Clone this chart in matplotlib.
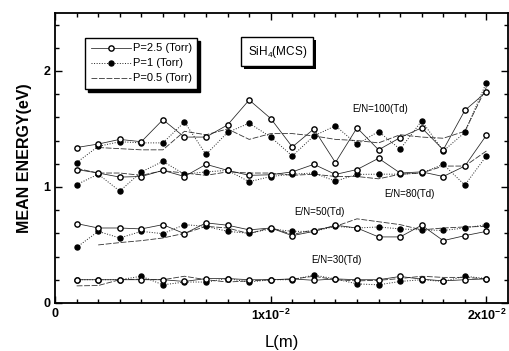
import numpy as np
import matplotlib
matplotlib.use("Agg")
import matplotlib.pyplot as plt
import matplotlib.transforms as mtransforms
from matplotlib.patches import Rectangle

plt.rcParams['font.family'] = ['Liberation Sans', 'DejaVu Sans']
plt.rcParams['mathtext.fontset'] = 'custom'
plt.rcParams['mathtext.rm'] = 'Liberation Sans'
plt.rcParams['mathtext.bf'] = 'Liberation Sans:bold'

# drift length L (m)
L = np.arange(1, 21) * 1e-3
nan = np.nan

# mean energy (eV) for each E/N and pressure
en100_p25 = [1.34, 1.37, 1.41, 1.39, 1.58, 1.43, 1.43, 1.535, 1.75, 1.59,
             1.345, 1.50, 1.21, 1.51, 1.32, 1.425, 1.51, 1.32, 1.66, 1.82]
en100_p1 = [1.21, 1.35, 1.39, 1.38, 1.38, 1.56, 1.28, 1.47, 1.55, 1.43,
            1.267, 1.44, 1.527, 1.368, 1.478, 1.325, 1.57, 1.31, 1.47, 1.90]
en100_p05 = [nan, 1.34, 1.33, 1.32, 1.32, 1.48, 1.45, 1.50, 1.41, 1.46,
             1.46, 1.44, 1.41, 1.40, 1.38, 1.45, 1.43, 1.42, 1.48, 1.86]

en80_p25 = [1.15, 1.12, 1.085, 1.09, 1.143, 1.09, 1.195, 1.143, 1.10, 1.105,
            1.13, 1.195, 1.108, 1.15, 1.247, 1.12, 1.13, 1.09, 1.18, 1.446]
en80_p1 = [1.02, 1.11, 0.964, 1.13, 1.22, 1.11, 1.13, 1.143, 1.045, 1.09,
           1.11, 1.12, 1.05, 1.108, 1.11, 1.11, 1.12, 1.195, 1.016, 1.267]
en80_p05 = [1.16, 1.12, 1.12, 1.10, 1.14, 1.12, 1.10, 1.13, 1.12, 1.12,
            1.10, 1.11, 1.09, 1.09, 1.07, 1.11, 1.12, 1.18, 1.18, 1.31]

en50_p25 = [0.684, 0.646, 0.646, 0.638, 0.675, 0.597, 0.69, 0.67, 0.63, 0.646,
            0.58, 0.617, 0.67, 0.646, 0.569, 0.569, 0.67, 0.537, 0.58, 0.617]
en50_p1 = [0.479, 0.617, 0.56, 0.617, 0.597, 0.675, 0.66, 0.617, 0.60, 0.638,
           0.617, 0.617, 0.66, 0.646, 0.655, 0.638, 0.63, 0.625, 0.646, 0.675]
en50_p05 = [nan, 0.50, 0.52, 0.537, 0.56, 0.60, 0.66, 0.646, 0.597, 0.65,
            0.59, 0.63, 0.66, 0.725, 0.70, 0.675, 0.63, 0.646, 0.655, 0.66]

en30_p25 = [0.20, 0.20, 0.20, 0.20, 0.20, 0.185, 0.21, 0.21, 0.20, 0.20,
            0.207, 0.195, 0.207, 0.20, 0.20, 0.228, 0.205, 0.19, 0.20, 0.207]
en30_p1 = [0.20, 0.20, 0.20, 0.23, 0.156, 0.18, 0.18, 0.21, 0.18, 0.20,
           0.20, 0.24, 0.207, 0.164, 0.156, 0.185, 0.20, 0.185, 0.23, 0.21]
en30_p05 = [0.147, 0.15, 0.20, 0.205, 0.20, 0.23, 0.20, 0.18, 0.19, 0.20,
            0.205, 0.23, 0.20, 0.19, 0.195, 0.21, 0.23, 0.22, 0.22, 0.207]

fig = plt.figure(figsize=(5.10, 3.51), dpi=100)
ax = fig.add_axes([0.108, 0.137, 0.888, 0.826])

style_p25 = dict(color='#222222', lw=0.55, ls='-', marker='o', ms=3.8,
                 mfc='white', mec='black', mew=1.0)
style_p1 = dict(color='#222222', lw=0.7, ls=':', marker='o', ms=3.6,
                mfc='black', mec='black')
style_p05 = dict(color='#333333', lw=0.6, ls='--', dashes=(7, 2))

groups = [(en100_p25, en100_p1, en100_p05),
          (en80_p25, en80_p1, en80_p05),
          (en50_p25, en50_p1, en50_p05),
          (en30_p25, en30_p1, en30_p05)]
for k, (a, b, c) in enumerate(groups):
    ax.plot(L, c, label='P=0.5 (Torr)' if k == 0 else None, **style_p05)
    ax.plot(L, b, label='P=1 (Torr)' if k == 0 else None, **style_p1)
    ax.plot(L, a, label='P=2.5 (Torr)' if k == 0 else None, **style_p25)

ax.set_xlim(0, 0.021)
ax.set_ylim(0, 2.5)
ax.set_xticks([0, 0.01, 0.02])
ax.set_xticklabels(['0', r'$\mathbf{1x10^{-2}}$', r'$\mathbf{2x10^{-2}}$'])
ax.set_xticks(np.arange(0.001, 0.021, 0.001), minor=True)
ax.set_yticks([0, 1, 2])
ax.set_yticks(np.arange(0.2, 2.5, 0.2), minor=True)
ax.tick_params(which='both', direction='in', top=True, right=True, width=1.0)
ax.tick_params(which='major', length=5, labelsize=9)
ax.tick_params(which='minor', length=3)
for t in ax.get_xticklabels() + ax.get_yticklabels():
    t.set_fontweight('bold')
for s in ax.spines.values():
    s.set_linewidth(1.3)

ax.set_xlabel('L(m)', fontsize=12, labelpad=9)
ax.set_ylabel('MEAN ENERGY(eV)', fontsize=11.5, fontweight='bold', labelpad=8)

handles, labels = ax.get_legend_handles_labels()
order = [2, 1, 0]
leg = ax.legend([handles[i] for i in order], [labels[i] for i in order],
                loc='upper left', bbox_to_anchor=(0.066, 0.914), borderaxespad=0,
                fontsize=8, frameon=True, fancybox=False,
                shadow={'color': 'black', 'alpha': 1},
                edgecolor='black', handlelength=3.6, labelspacing=0.45,
                borderpad=0.5, handletextpad=0.2, framealpha=1)
leg.get_frame().set_linewidth(1.0)

# SiH4(MCS) box with a solid shadow
sih = ax.text(0.425, 0.866, r'SiH$_4$(MCS)', transform=ax.transAxes, fontsize=8.5,
              ha='left', va='center', zorder=6,
              bbox=dict(boxstyle='square,pad=0.55', fc='white', ec='black', lw=1.0))

ax.text(0.01505, 1.67, 'E/N=100(Td)', fontsize=7, ha='center', va='center')
ax.text(0.01644, 0.935, 'E/N=80(Td)', fontsize=7, ha='center', va='center')
ax.text(0.01227, 0.78, 'E/N=50(Td)', fontsize=7, ha='center', va='center')
ax.text(0.01305, 0.372, 'E/N=30(Td)', fontsize=7, ha='center', va='center')

fig.canvas.draw()
bb = sih.get_bbox_patch().get_window_extent()
ax.add_patch(Rectangle((bb.x0 + 3, bb.y0 - 3), bb.width, bb.height,
                       transform=mtransforms.IdentityTransform(),
                       fc='black', ec='none', zorder=5, clip_on=False))

fig.savefig('out.png', dpi=100)
